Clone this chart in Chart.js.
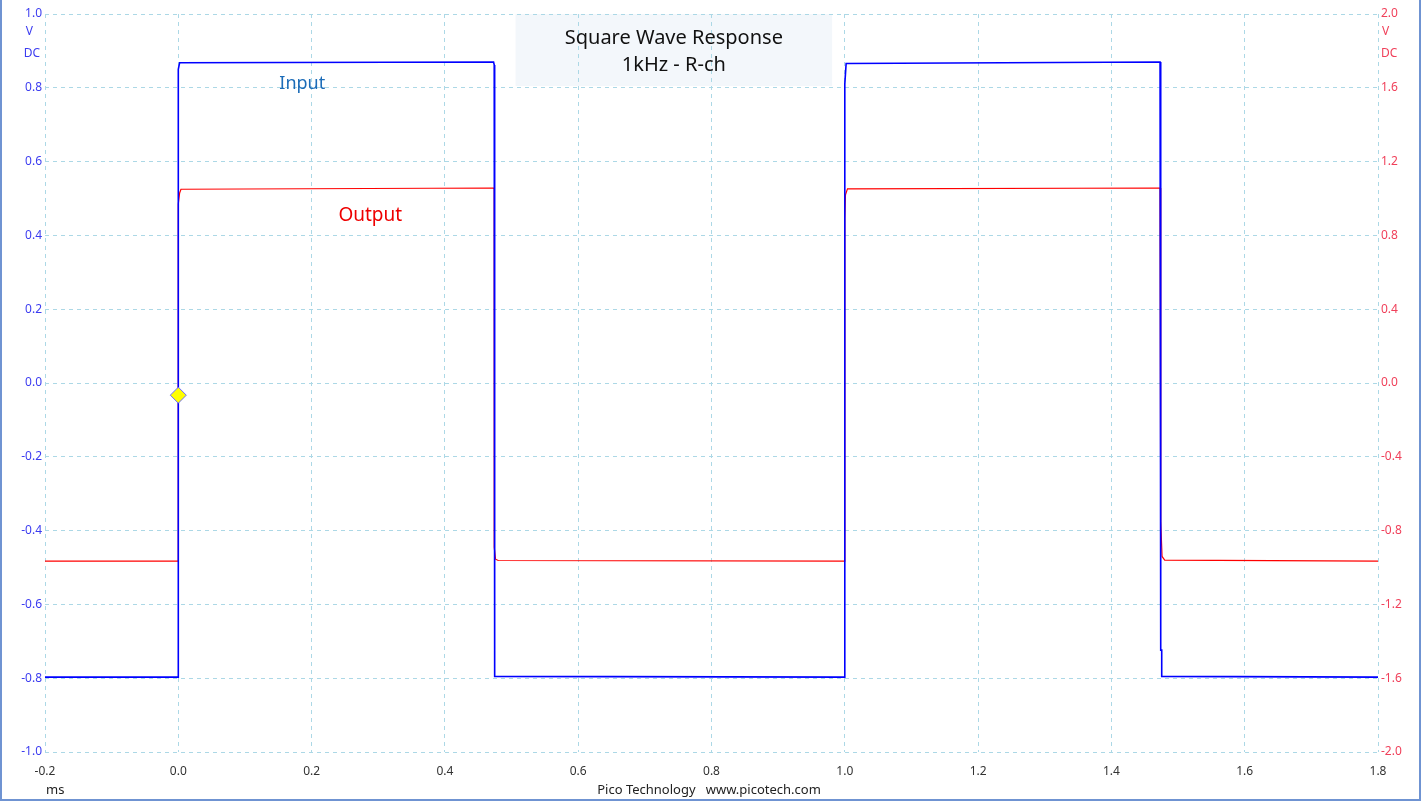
<!DOCTYPE html>
<html>
<head>
<meta charset="utf-8">
<script src="https://cdn.jsdelivr.net/npm/chart.js@4"></script>
<style>
  html, body { margin: 0; padding: 0; background: #fff; }
  canvas { display: block; }
</style>
</head>
<body>
<canvas id="scope" width="1421" height="801"></canvas>
<script>
// square wave capture
const inputTime  = [-0.2, 0.0, 0.0, 0.002, 0.473, 0.474, 0.474, 0.475, 0.475, 0.999, 1.0, 1.0, 1.002, 1.473, 1.474, 1.474, 1.4755, 1.4755, 1.8];
const inputVolts = [-0.797, -0.797, 0.85, 0.868, 0.870, 0.862, -0.778, -0.778, -0.795, -0.797, -0.797, 0.81, 0.866, 0.870, 0.86, -0.724, -0.724, -0.795, -0.797];

const outputTime  = [-0.2, 0.0, 0.0, 0.002, 0.004, 0.473, 0.474, 0.474, 0.476, 0.48, 1.0, 1.0, 1.001, 1.004, 1.473, 1.474, 1.474, 1.476, 1.48, 1.8];
const outputVolts = [-0.965, -0.965, 0.97, 1.03, 1.05, 1.057, 1.05, -0.89, -0.955, -0.962, -0.965, 0.89, 1.02, 1.052, 1.057, 1.05, -0.75, -0.94, -0.96, -0.965];

const triggerTime = [0.0];
const triggerVolts = [-0.033];

const timeTicks = [-0.2, 1.8, 0.2];     // min, max, step (ms)
const leftTicks = [-1.0, 1.0, 0.2];     // V
const rightTicks = [-2.0, 2.0, 0.4];    // V

const toPts = (xs, ys) => xs.map((x, i) => ({ x: x, y: ys[i] }));

const BLUE_TXT = '#3c3cf0';
const RED_TXT = '#f0405a';
const GRID = '#acd8e6';
const FONT = '"Noto Sans", "Open Sans", sans-serif';

// title box, trace names, units, footer
const extras = {
    id: 'extras',
    beforeDraw(chart) {
        const { ctx } = chart;
        const x = chart.scales.x, y = chart.scales.y;
        const x0 = x.getPixelForValue(0.506), x1 = x.getPixelForValue(0.981);
        const y0 = y.getPixelForValue(1.0), y1 = y.getPixelForValue(0.805);
        ctx.save();
        ctx.fillStyle = '#f3f7fb';
        ctx.fillRect(x0, y0, x1 - x0, y1 - y0);
        ctx.restore();
    },
    afterDraw(chart) {
        const { ctx, chartArea } = chart;
        const x = chart.scales.x, y = chart.scales.y;
        ctx.save();
        ctx.textBaseline = 'middle';

        ctx.textAlign = 'center';
        ctx.fillStyle = '#111';
        ctx.font = '20px ' + FONT;
        const cx = x.getPixelForValue(0.7435);
        ctx.fillText('Square Wave Response', cx, y.getPixelForValue(0.933));
        ctx.fillText('1kHz - R-ch', cx, y.getPixelForValue(0.862));

        ctx.font = '18px ' + FONT;
        ctx.fillStyle = '#1c6cb8';
        ctx.fillText('Input', x.getPixelForValue(0.186), y.getPixelForValue(0.81));
        ctx.font = '19px ' + FONT;
        ctx.fillStyle = '#ee0000';
        ctx.fillText('Output', x.getPixelForValue(0.288), y.getPixelForValue(0.453));

        // units
        ctx.font = '12px ' + FONT;
        ctx.textAlign = 'right';
        ctx.fillStyle = BLUE_TXT;
        ctx.fillText('V', 33, 32);
        ctx.fillText('DC', 40, 54);
        ctx.textAlign = 'left';
        ctx.fillStyle = RED_TXT;
        ctx.fillText('V', chartArea.right + 4, 32);
        ctx.fillText('DC', chartArea.right + 3, 54);

        ctx.font = '13px ' + FONT;
        ctx.fillStyle = '#222';
        ctx.fillText('ms', 46, 790);
        ctx.textAlign = 'center';
        ctx.fillText('Pico Technology   www.picotech.com', 709, 790);

        // window frame
        ctx.strokeStyle = '#6f93d2';
        ctx.lineWidth = 2;
        ctx.beginPath();
        ctx.moveTo(1, 0);
        ctx.lineTo(1, 800);
        ctx.lineTo(1420, 800);
        ctx.lineTo(1420, 0);
        ctx.stroke();
        ctx.restore();
    }
};

const fmt = v => (Math.abs(v) < 1e-9 ? 0 : v).toFixed(1);

new Chart(document.getElementById('scope'), {
    type: 'line',
    data: {
        datasets: [
            {
                label: 'Trigger',
                type: 'scatter',
                data: toPts(triggerTime, triggerVolts),
                pointStyle: 'rectRot',
                pointRadius: 8,
                backgroundColor: '#ffff00',
                borderColor: '#6a6aff',
                borderWidth: 1,
                order: 0
            },
            {
                label: 'Input',
                data: toPts(inputTime, inputVolts),
                borderColor: '#0000ff',
                borderWidth: 1.6,
                pointRadius: 0,
                tension: 0,
                order: 1
            },
            {
                label: 'Output',
                data: toPts(outputTime, outputVolts),
                yAxisID: 'y2',
                borderColor: '#ff0000',
                borderWidth: 1.2,
                pointRadius: 0,
                tension: 0,
                order: 2
            }
        ]
    },
    options: {
        responsive: false,
        animation: false,
        devicePixelRatio: 1,
        layout: { padding: { top: 14, left: 0, right: 0, bottom: 0 } },
        plugins: { legend: { display: false }, tooltip: { enabled: false } },
        scales: {
            x: {
                type: 'linear',
                min: timeTicks[0], max: timeTicks[1],
                ticks: { stepSize: timeTicks[2], callback: fmt, color: '#333', font: { size: 12, family: FONT }, padding: 12, maxRotation: 0 },
                grid: { color: GRID, drawTicks: false },
                border: { display: false, dash: [4, 4] },
                afterFit: s => { s.height = 49; }
            },
            y: {
                position: 'left',
                min: leftTicks[0], max: leftTicks[1],
                ticks: { stepSize: leftTicks[2], callback: fmt, color: BLUE_TXT, font: { size: 12, family: FONT }, padding: 3 },
                grid: { color: GRID, drawTicks: false },
                border: { display: false, dash: [4, 4] },
                afterFit: s => { s.width = 45; }
            },
            y2: {
                position: 'right',
                min: rightTicks[0], max: rightTicks[1],
                ticks: { stepSize: rightTicks[2], callback: fmt, color: RED_TXT, font: { size: 12, family: FONT }, padding: 3 },
                grid: { display: false, drawTicks: false },
                border: { display: false },
                afterFit: s => { s.width = 43; }
            }
        }
    },
    plugins: [extras]
});
</script>
</body>
</html>
